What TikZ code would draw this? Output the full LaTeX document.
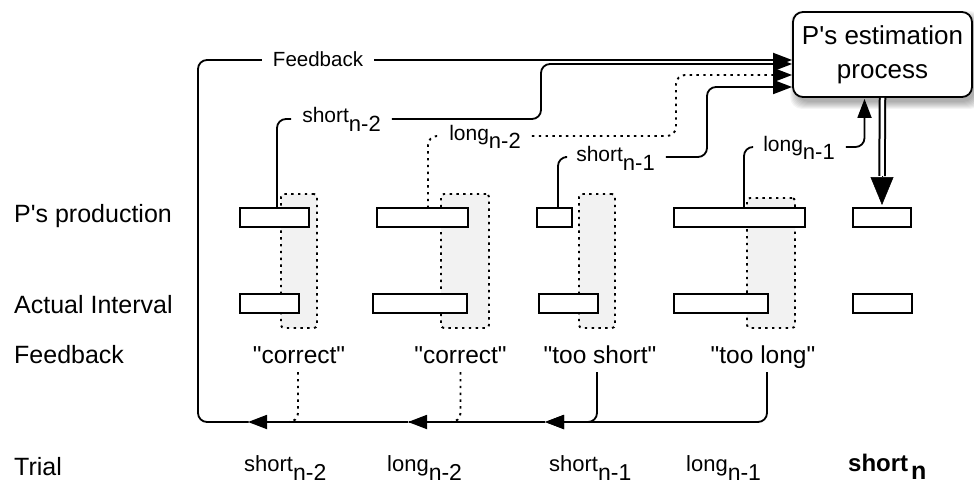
\documentclass[tikz,border=0pt]{standalone}
\usepackage{fontspec}
\setmainfont{Liberation Sans}
\usetikzlibrary{arrows.meta,calc}
\newcommand\fsz[1]{\fontsize{#1}{#1}\selectfont}
\newcommand\lbsub[1]{\raisebox{-9pt}{\fsz{22}#1}}
\newcommand\trsub[1]{\raisebox{-9pt}{\fsz{23}#1}}
\newcommand\qq[1]{\textquotedbl #1\textquotedbl}
\begin{document}
\begin{tikzpicture}[x=1pt,y=-1pt,
  bar/.style={draw, fill=white, line width=1.9pt, inner sep=0pt, outer sep=0pt, minimum height=19pt},
  gbox/.style={draw, fill=black!5, line width=1.9pt, dash pattern=on 2.4pt off 4.4pt, rounded corners=3pt, anchor=north west, inner sep=0pt, outer sep=0pt},
  conn/.style={line width=1.8pt, rounded corners=9pt},
  dconn/.style={conn, line width=1.9pt, dash pattern=on 2.4pt off 4.4pt},
  tip/.style={-{Triangle[length=19pt,width=14pt]}},
  lab/.style={inner xsep=11pt, inner ysep=0pt, text height=16pt, text depth=8pt, font=\fsz{21}},
  rowlab/.style={anchor=base west, font=\fsz{25}, inner sep=0pt},
  fbtext/.style={anchor=base, font=\fsz{24.5}, text depth=6pt, inner sep=3pt},
  trial/.style={anchor=base west, font=\fsz{22}, inner sep=0pt},
  est/.style={draw, fill=white, line width=1.8pt, rounded corners=10pt, minimum width=179pt, minimum height=85pt, align=center, font=\fontsize{26}{34}\selectfont, inner sep=0pt}
]
\fill[white] (0,0) rectangle (974,484);
\useasboundingbox (0,0) rectangle (974,484);

% row labels
\node[rowlab] (rp) at (14,222) {P\textquotesingle s production};
\node[rowlab] (ra) at (14,313) {Actual Interval};
\node[rowlab] (rf) at (14,363) {Feedback};
\node[rowlab] (rt) at (14,475) {Trial};

% shaded comparison boxes
\node[gbox, minimum width=36pt, minimum height=134pt] (g1) at (281,194) {};
\node[gbox, minimum width=48pt, minimum height=134pt] (g2) at (441,194) {};
\node[gbox, minimum width=36pt, minimum height=134pt] (g3) at (579,194) {};
\node[gbox, minimum width=48pt, minimum height=130pt] (g4) at (747,198) {};

% production bars
\node[bar, minimum width=69pt] (p1) at (274.5,217.5) {};
\node[bar, minimum width=91pt] (p2) at (422.5,217.5) {};
\node[bar, minimum width=35pt] (p3) at (554.5,217.5) {};
\node[bar, minimum width=131pt] (p4) at (739.5,217.5) {};
\node[bar, minimum width=58pt] (p5) at (882,217.5) {};
% actual bars
\node[bar, minimum width=59pt] (a1) at (269.5,303.5) {};
\node[bar, minimum width=94pt] (a2) at (420,303.5) {};
\node[bar, minimum width=59pt] (a3) at (568.5,303.5) {};
\node[bar, minimum width=94pt] (a4) at (721,303.5) {};
\node[bar, minimum width=59pt] (a5) at (882.5,303.5) {};

% feedback texts
\node[fbtext] (c1) at (299,363) {\qq{correct}};
\node[fbtext] (c2) at (460.5,363) {\qq{correct}};
\node[fbtext] (ts) at (600,363) {\qq{too short}};
\node[fbtext] (tl) at (763,363) {\qq{too long}};

% trial labels
\node[trial] (t1) at (244,471) {short\trsub{n-2}};
\node[trial] (t2) at (387,471) {long\trsub{n-2}};
\node[trial] (t3) at (549,471) {short\trsub{n-1}};
\node[trial] (t4) at (686,471) {long\trsub{n-1}};
\node[trial, font=\fsz{24}\bfseries] (t5) at (848,471) {short\kern3pt\raisebox{-8pt}{\fsz{25}n}};

% estimation box with soft shadow
\foreach \i in {0,...,7}
  \fill[black, fill opacity=0.045, rounded corners=12pt] (797-\i,18-\i) rectangle (975+\i,102+\i);
\node[est] (est) at (882.5,54.5) {P\textquotesingle s estimation\\process};

\coordinate (ein1) at ([yshift=-5.5pt]est.west);
\coordinate (ein2) at ([yshift=-9.5pt]est.west);
\coordinate (ein3) at ([yshift=-20.5pt]est.west);
\coordinate (ein4) at ([yshift=-32.5pt]est.west);
\coordinate (ein5) at ([xshift=-18pt]est.south);

% connector labels
\node[lab, text height=14pt, text depth=0pt, font=\fsz{20.5}] (l0) at (318,60) {Feedback};
\node[lab] (l1) at (341.5,119) {short\lbsub{n-2}};
\node[lab] (l2) at (485,136) {long\lbsub{n-2}};
\node[lab] (l3) at (615.5,157) {short\lbsub{n-1}};
\node[lab] (l4) at (799,147) {long\lbsub{n-1}};

% connectors from productions to the estimation process
\draw[conn] ([xshift=2.5pt]p1.north) |- (l1.west);
\draw[conn,tip] (l1.east) -| (541,90) |- (ein2);
\draw[dconn] ([xshift=5.5pt]p2.north) |- (l2.west);
\draw[dconn,tip] (l2.east) -| (676,100) |- (ein3);
\draw[conn] ([xshift=3.5pt]p3.north) |- (l3.west);
\draw[conn,tip] (l3.east) -| (707,120) |- (ein4);
\draw[conn] ([xshift=4.5pt]p4.north) |- (l4.west);
\draw[conn,tip,shorten >=1pt] (l4.east) -| (ein5);

% estimation to next production
\draw[line width=2pt, double=white, double distance=3.5pt] (est.south) -- ([yshift=32pt]p5.north);
\draw[-{Triangle[length=28pt,width=23pt]}, line width=0.5pt] ([yshift=32pt]p5.north) -- ([yshift=3pt]p5.north);

% feedback loop
\coordinate (b1) at (248,422);
\coordinate (b2) at (408,422);
\coordinate (b3) at (545,422);
\coordinate (cBL) at (198,422);
\coordinate (cTL) at (198,60);
\draw[conn,tip] ([xshift=4pt]tl.south) |- (b3);
\draw[conn,tip] ([xshift=-3pt]ts.south) |- (b3);
\draw[conn,tip] (b3) -- (b2);
\draw[dconn] (c2.south) |- (b2);
\draw[conn,tip] (b2) -- (b1);
\draw[dconn] ([xshift=-1pt]c1.south) |- (b1);
\draw[conn] (b1) -- (cBL) -- (cTL) -- (l0.west);
\draw[conn,tip] (l0.east) -- (ein1);
\end{tikzpicture}
\end{document}
